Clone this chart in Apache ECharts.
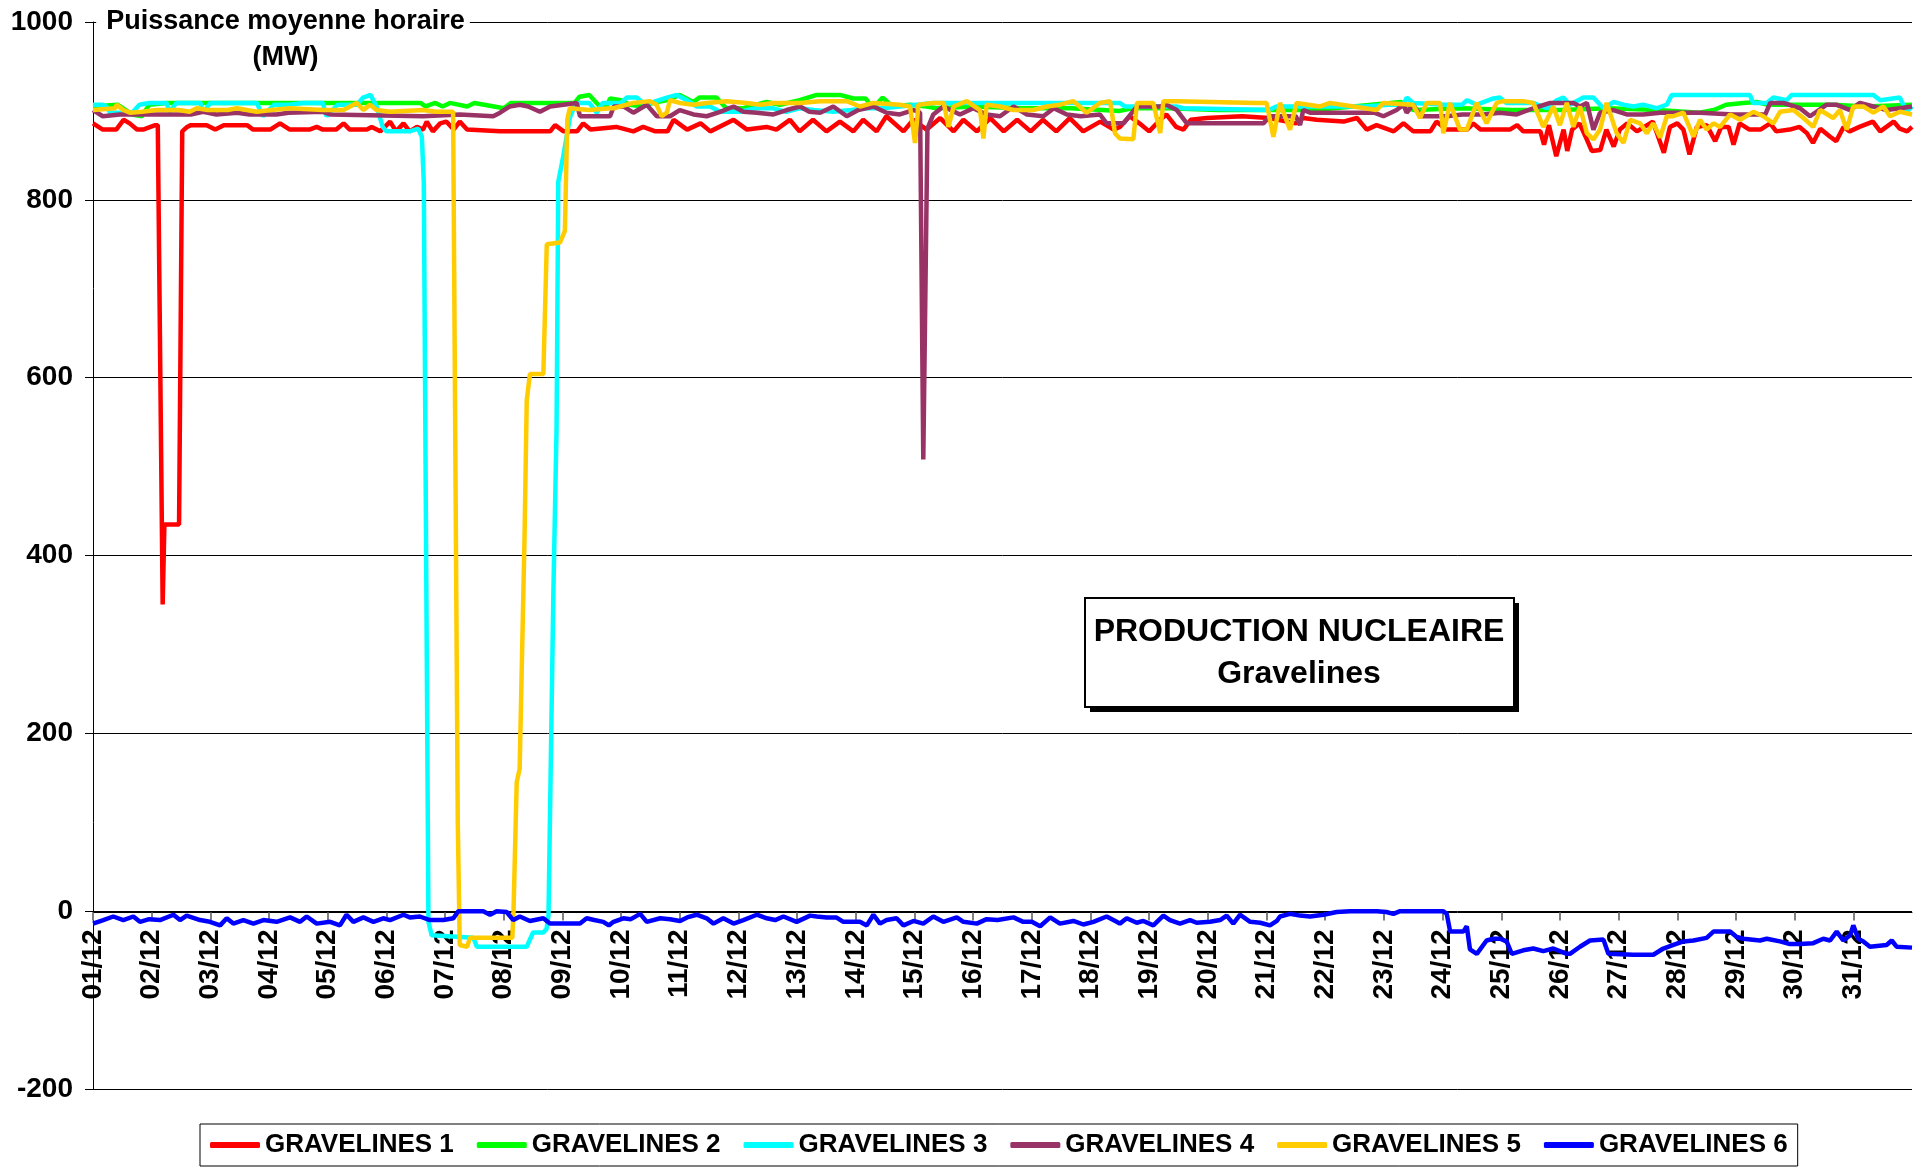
<!DOCTYPE html>
<html>
<head>
<meta charset="utf-8">
<title>Production nucleaire Gravelines</title>
<script src="https://cdn.jsdelivr.net/npm/echarts@6/dist/echarts.min.js"></script>
<style>
  html, body { margin: 0; padding: 0; background: #fff; }
  #chart { width: 1922px; height: 1171px; }
</style>
</head>
<body>
<div id="chart"></div>
<script>
// heures depuis le 01/12 00h -> puissance moyenne horaire (MW)
const seriesNames = ['GRAVELINES 1', 'GRAVELINES 2', 'GRAVELINES 3', 'GRAVELINES 4', 'GRAVELINES 5', 'GRAVELINES 6']
const yTicks = [-200, 0, 200, 400, 600, 800, 1000]
const dayCount = 31

const g1 = [[0,886],[4,879],[9.5,879],[12.5,890],[15,886],[18,879],[20.5,879],[23.5,882],[25.5,884],[26.5,884],[28.5,345],[29.2,435],[35.2,435],[36.5,877],[38.5,882],[40,884],[46.5,884],[50,879],[53.5,884],[63,884],[65.5,879],[72.5,879],[76.5,886],[80.5,879],[88.5,879],[91.5,882],[94,879],[99.5,879],[102.5,886],[105,879],[112,879],[114,882],[117.5,877],[121.5,888],[124,877],[127,886],[129.5,877],[132.5,882],[135,879],[136.5,888],[139,877],[142,886],[144.5,888],[147.5,879],[150,888],[153,879],[166.5,877],[187,877],[189,884],[192.5,877],[198,877],[200.5,886],[203.5,879],[214,882],[221,877],[225,882],[230,877],[235,877],[237.5,890],[243,879],[248.5,886],[252.5,877],[262,890],[267.5,879],[275.5,882],[279.5,879],[285,890],[289,877],[294.5,890],[300,877],[305.5,888],[311,877],[315,890],[320.5,877],[324.5,894],[331.5,877],[335.5,890],[341,879],[346.5,892],[352,877],[356,890],[361.5,877],[367,892],[372.5,877],[378,890],[383.5,877],[388.5,890],[394,877],[399.5,892],[405,877],[412,888],[417.5,879],[420,882],[424,894],[428,886],[432,877],[436.5,890],[439,896],[443,882],[446,879],[449,890],[455.5,892],[470,894],[481,892],[492,886],[495,892],[500.5,890],[511.5,888],[517,892],[521,879],[525,884],[532,877],[536,886],[540,877],[547,877],[549.5,888],[553.5,879],[562,879],[564.5,886],[567.5,879],[579.5,879],[582.5,884],[585,877],[592,877],[593.5,862],[595.5,884],[598.5,849],[601.5,879],[603,855],[605,879],[608,886],[610.5,871],[613,855],[616.5,856],[619,879],[622,860],[624.5,879],[627.5,886],[631.5,877],[638,888],[642.5,853],[645,882],[648,886],[650.5,879],[653,851],[656,882],[660,884],[663.5,866],[666,882],[669,882],[671,862],[673.5,886],[677.5,879],[682,879],[686,886],[688.5,877],[694,879],[698,882],[701,875],[703.5,864],[706.5,880],[710.5,871],[713,866],[716,882],[718.5,877],[722.5,882],[728,888],[731,877],[736.5,888],[739,880],[742,877],[744,882]]

const g2 = [[0,905],[10,907],[16,896],[20,894],[23,907],[30,909],[60,909],[100,909],[134,909],[136,905],[140,909],[143,905],[146,909],[153,905],[156,909],[168,903],[171,909],[190,909],[197,909],[199,916],[203,918],[206,909],[208,903],[210,905],[211.5,914],[216,912],[219.5,907],[225,905],[229,909],[234.5,912],[240,918],[245.5,910],[248,915],[255,915],[259,903],[266,903],[275.5,910],[281,907],[289,912],[296,918],[305.5,918],[311,914],[316,914],[319,903],[323,915],[327,905],[334,907],[341,905],[345,903],[360,905],[380,903],[400,903],[420,900],[425,903],[440,903],[460,901],[500,901],[535,910],[540,901],[560,903],[580,901],[600,901],[620,903],[640,901],[657,898],[663,901],[668,907],[675,909],[680.5,910],[685,907],[712,907],[725,905],[744,907]]

const g3 = [[0,907],[4,907],[5.5,905],[7,898],[16,898],[19,907],[23,909],[30,909],[31.5,899],[34,909],[44,909],[45,898],[48,909],[67,909],[69.5,894],[74,907],[80,907],[86,909],[94,909],[95.5,894],[100,907],[108,907],[110.5,915],[113.5,918],[116,905],[118.5,882],[120,877],[129.5,877],[133,880],[134.5,871],[135.3,820],[137.2,-12],[138.5,-27],[155.6,-30],[157,-40],[177.4,-40],[180,-24],[184.2,-24],[185.5,-20],[186.3,-5],[188.3,358],[189.6,543],[190.3,820],[192.4,850],[195.1,893],[197,905],[199,909],[203,909],[206,898],[208.5,909],[216,909],[218.3,915],[222.4,915],[226,907],[234.7,915],[238.8,918],[242.9,912],[247,905],[252.4,905],[256.5,899],[264.7,899],[271,903],[278,903],[283.5,899],[289,903],[294.7,901],[302.8,899],[310,901],[316,903],[323,903],[330,905],[337,907],[344,909],[420,909],[422,905],[443,905],[446,903],[481,901],[484,905],[520,905],[530,907],[536,907],[537.3,915],[540,909],[553,907],[560,907],[562,912],[566,907],[572.8,914],[575.5,915],[578,909],[589,909],[594.6,903],[598.7,912],[601.4,915],[604.1,907],[609.6,915],[613.7,915],[617.8,903],[622,910],[626,907],[630,905],[634,907],[639.6,903],[643.7,907],[645.7,918],[677.7,918],[679,909],[684.6,909],[687.3,915],[692.7,912],[694.8,918],[728.2,918],[731,912],[739,915],[741.8,899],[744,905]]

const g4 = [[0,901],[4,894],[11,896],[19,896],[40,896],[45,899],[50.5,896],[59,898],[64,896],[75,896],[80,898],[94,899],[97,896],[135,894],[150,896],[163.7,894],[166.5,898],[170.5,905],[174.6,907],[178,905],[182.8,899],[187,905],[192.4,907],[197.8,909],[199.2,894],[211.5,894],[213,905],[217,905],[221,898],[226.5,907],[230.6,894],[236,894],[240,901],[245.6,896],[251,894],[256.5,899],[262,905],[266,899],[271.5,898],[278.3,896],[283.7,901],[289.2,905],[293,899],[297.4,898],[302.8,905],[308.3,894],[313,901],[319.2,905],[324.6,898],[330,896],[335.6,901],[338.3,898],[339.6,508],[341.3,880],[343.7,896],[347.8,905],[354.6,896],[360,903],[365.5,896],[371,894],[376.5,905],[382,896],[388.7,894],[393,903],[398.3,896],[404,894],[411.9,896],[414.6,886],[421.5,886],[427,905],[436.4,905],[439,907],[443.3,901],[447.4,886],[478.7,886],[481.4,894],[492,894],[493.7,884],[495,901],[497.8,898],[524,898],[527.8,894],[533.2,901],[536,907],[537.3,898],[540,907],[543,894],[553.7,894],[560,896],[568.7,896],[575.5,898],[582.3,896],[589.1,903],[596,909],[605.5,909],[608.2,905],[611,909],[613.7,879],[616.4,898],[621.9,901],[627.3,896],[634,896],[641,898],[657.3,898],[671,896],[684,896],[686,909],[691.4,909],[698.2,903],[702.3,894],[709.1,907],[713,907],[718.7,901],[722.7,909],[728.2,905],[733.6,901],[739.1,903],[744,905]]

const g5 = [[0,901],[9,903],[9.7,907],[12.4,901],[15.1,898],[20,899],[26,901],[35,901],[39.5,899],[42.4,903],[47,901],[55,901],[58.8,903],[67,899],[73,901],[80.6,903],[94,901],[102.4,901],[107.8,909],[110.6,901],[113.3,907],[116,901],[121.5,899],[135,901],[140.5,899],[147.3,899],[149.2,100],[150,-38],[153,-40],[154.2,-30],[171.5,-30],[172,0],[173.3,145],[174.5,160],[176.5,420],[177.4,574],[178.7,604],[184.2,604],[185.6,750],[191,752],[193,765],[194,890],[195,903],[203,901],[211.5,903],[213,903],[215.5,905],[221,909],[227.8,911],[230.5,907],[232.6,894],[234.7,898],[236,912],[240,909],[245.6,907],[251,909],[259.2,911],[267.4,909],[272.9,907],[278.3,909],[289.2,909],[297.4,911],[308.3,911],[313.7,905],[319.2,909],[330,907],[334.2,905],[336.2,864],[337.6,907],[343.7,909],[348,909],[349.9,882],[352,905],[357.4,911],[362.8,901],[364.2,869],[365.5,907],[371,905],[376.5,901],[384.6,901],[390.1,905],[395.5,907],[401,911],[406.4,898],[411.9,909],[416,911],[418,875],[420,869],[425.5,868],[427,909],[433.7,909],[436.5,875],[437.8,911],[443.3,911],[476,909],[480,909],[482.8,871],[485.5,909],[489.6,879],[492.3,909],[501.9,905],[506,909],[525,901],[527.8,909],[540,907],[542.8,892],[545.5,909],[551,909],[552.3,875],[555,909],[559.1,879],[561.9,879],[566,909],[570,886],[574.1,909],[576.8,911],[585,911],[589.1,909],[593.2,882],[597.3,905],[600,884],[602.8,909],[605.5,882],[608.2,905],[611,875],[613.7,868],[616.4,879],[619.1,909],[623.2,875],[626,864],[628.7,890],[632.8,886],[635.5,875],[638.2,886],[641,870],[643.7,894],[646.4,894],[650.5,898],[654.6,871],[657.3,890],[660,879],[662.8,886],[665.5,882],[669.6,896],[673.7,890],[679.1,899],[683.2,894],[687.3,886],[690,899],[695.5,901],[699.6,892],[703.6,882],[706.4,901],[711.8,892],[714.5,901],[717.3,879],[720,905],[724.1,905],[728.2,898],[732.3,905],[735,894],[739.1,899],[744,896]]

const g6 = [[0,-14],[4.2,-10],[8.3,-6],[12.4,-10],[16.5,-6],[19.2,-12],[23,-9],[27.4,-10],[32.9,-4],[35.6,-10],[38.3,-5],[43.8,-10],[47.8,-12],[52,-16],[54.7,-8],[57.4,-14],[61.5,-10],[65.6,-14],[69.7,-10],[75.1,-12],[80.6,-7],[84.7,-12],[87.4,-6],[91.5,-14],[97,-12],[101,-16],[103.7,-4],[106.5,-12],[110.6,-7],[114.7,-12],[118.7,-8],[121.5,-10],[127,-4],[129.6,-7],[133.7,-6],[137.8,-10],[143.3,-10],[147.4,-8],[149.4,0],[159.6,0],[162.4,-4],[165.1,0],[169.2,-1],[171.9,-10],[174.6,-6],[178.7,-11],[184.2,-8],[186.9,-14],[192.4,-14],[199.2,-14],[201.9,-8],[205,-10],[208.7,-12],[211,-16],[212.9,-12],[216.9,-8],[220,-9],[223.8,-3],[226.5,-12],[232,-8],[236,-9],[240.1,-11],[243,-7],[246.9,-4],[251,-8],[253.8,-14],[257.8,-8],[262,-14],[266,-10],[271.5,-4],[275.6,-8],[279,-10],[282.4,-6],[287.8,-12],[293.3,-5],[296,-6],[300.1,-7],[304,-7],[306.9,-12],[313.7,-12],[316.5,-16],[319.2,-4],[321.9,-14],[324.6,-10],[328.7,-8],[331.5,-16],[335.6,-11],[339.6,-14],[343.7,-6],[347.8,-12],[353.3,-7],[356,-12],[361.5,-14],[365.5,-9],[370,-10],[376.5,-7],[380.5,-12],[384,-12],[387.4,-17],[391.5,-7],[395.5,-14],[401,-11],[405.1,-15],[409.2,-12],[414.6,-6],[418.7,-12],[420,-14],[422.8,-8],[426.9,-13],[429.6,-11],[433.7,-16],[437.8,-5],[440.5,-10],[444.6,-14],[448.7,-10],[451.4,-13],[456.9,-12],[461,-10],[463.7,-5],[466.4,-14],[469.2,-4],[473.3,-12],[477.4,-13],[481.4,-16],[484.2,-11],[485.5,-6],[489.6,-3],[493.7,-5],[497.8,-6],[503.3,-4],[508.7,-1],[514.2,0],[525.1,0],[529,-1],[531.9,-3],[534.6,0],[552.3,0],[553.7,-3],[555.1,-23],[560.5,-23],[561.9,-17],[563.2,-43],[566,-48],[570,-33],[572.8,-31],[575.5,-31],[578.2,-34],[580.3,-48],[585,-44],[589.1,-42],[593.2,-45],[597.3,-42],[602.8,-48],[604.1,-48],[608.2,-40],[612.3,-33],[617.8,-32],[619.8,-48],[630,-49],[638.2,-49],[642.3,-42],[646.4,-38],[650.5,-34],[654.6,-33],[660,-30],[662.8,-23],[669.6,-23],[672.3,-29],[675,-31],[681.8,-33],[684.6,-31],[690,-34],[694.1,-37],[698.2,-37],[703.6,-36],[707.7,-31],[710.5,-33],[713.2,-23],[715.9,-33],[718.7,-27],[720,-16],[722,-31],[724.1,-34],[726.8,-40],[733.6,-38],[735.7,-33],[737.7,-40],[744,-41]]

const seriesData = [g1, g2, g3, g4, g5, g6]
const seriesColors = ['#ff0000', '#00ff00', '#00ffff', '#993366', '#ffcc00', '#0000ff']

const font = 'Liberation Sans, Arial, sans-serif'

let chart = echarts.init(document.getElementById('chart'))
let options = {
  backgroundColor: '#fff',
  animation: false,
  grid: {
    left: 93,
    right: 10,
    top: 22,
    bottom: 82
  },
  legend: {
    data: seriesNames,
    left: 200,
    top: 1124,
    padding: [8, 10],
    itemGap: 23,
    itemWidth: 50,
    itemHeight: 6,
    icon: 'roundRect',
    borderColor: '#000',
    borderWidth: 1,
    backgroundColor: '#fff',
    textStyle: {
      fontFamily: font,
      fontSize: 26,
      fontWeight: 'bold',
      color: '#000'
    }
  },
  xAxis: {
    type: 'value',
    min: 0,
    max: dayCount * 24,
    interval: 24,
    axisLine: { show: true, onZero: false, lineStyle: { color: '#000', width: 1 } },
    axisTick: { show: true, length: 8, lineStyle: { color: '#808080', width: 2 } },
    splitLine: { show: false },
    axisLabel: {
      rotate: 90,
      margin: 17,
      fontFamily: font,
      fontSize: 28,
      fontWeight: 'bold',
      color: '#000',
      showMaxLabel: false,
      formatter: function (v) {
        if (v >= dayCount * 24) return ''
        let d = v / 24 + 1
        return (d < 10 ? '0' + d : d) + '/12'
      }
    }
  },
  yAxis: {
    type: 'value',
    min: yTicks[0],
    max: yTicks[yTicks.length - 1],
    interval: 200,
    axisLine: { show: true, onZero: false, lineStyle: { color: '#000', width: 1 } },
    axisTick: { show: true, length: 8, lineStyle: { color: '#000' } },
    splitLine: { lineStyle: { color: '#000', width: 1 } },
    axisLabel: {
      margin: 20,
      fontFamily: font,
      fontSize: 28,
      fontWeight: 'bold',
      color: '#000',
      formatter: function (v) { return String(v) }
    }
  },
  graphic: [
    // titre de l'axe
    {
      type: 'text',
      z: 100,
      x: 283,
      y: 4,
      style: {
        text: 'Puissance moyenne horaire\n(MW)',
        fontFamily: font,
        fontSize: 27,
        fontWeight: 'bold',
        fill: '#000',
        align: 'center',
        verticalAlign: 'top',
        lineHeight: 36,
        backgroundColor: '#fff',
        padding: [0, 5, 0, 10]
      }
    },
    // encadré
    {
      type: 'rect',
      z: 100,
      shape: { x: 1090, y: 603, width: 429, height: 109 },
      style: { fill: '#000' }
    },
    {
      type: 'rect',
      z: 101,
      shape: { x: 1085, y: 598, width: 429, height: 109 },
      style: { fill: '#fff', stroke: '#000', lineWidth: 2 }
    },
    {
      type: 'text',
      z: 102,
      x: 1299,
      y: 611,
      style: {
        text: 'PRODUCTION NUCLEAIRE\nGravelines',
        fontFamily: font,
        fontSize: 32,
        fontWeight: 'bold',
        fill: '#000',
        align: 'center',
        verticalAlign: 'top',
        lineHeight: 42
      }
    }
  ],
  series: seriesNames.map(function (name, i) {
    return {
      name: name,
      type: 'line',
      data: seriesData[i],
      symbol: 'none',
      color: seriesColors[i],
      lineStyle: { width: 4.5, color: seriesColors[i] }
    }
  })
}
chart.setOption(options)

// l'axe des dates passe par le zéro : on le remonte depuis le bas de la grille
let yBottom = chart.convertToPixel({ yAxisIndex: 0 }, yTicks[0])
let yZero = chart.convertToPixel({ yAxisIndex: 0 }, 0)
chart.setOption({ xAxis: { offset: yZero - yBottom } })
</script>
</body>
</html>
